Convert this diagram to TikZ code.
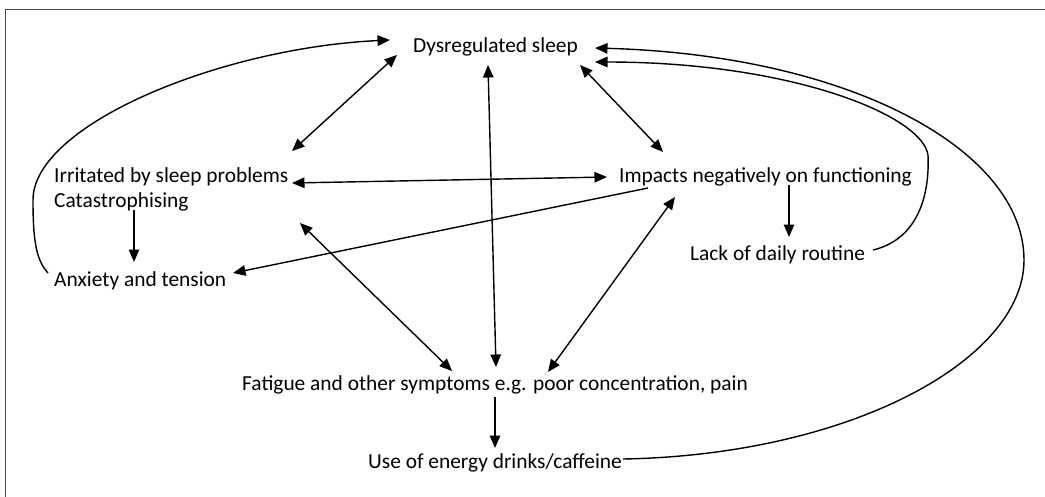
\documentclass[tikz,border=0pt]{standalone}
\usepackage{fontspec}
\setmainfont{Carlito}
\usetikzlibrary{arrows.meta}
\begin{document}
\begin{tikzpicture}[x=1pt,y=-1pt,
  lbl/.style={anchor=base west,inner sep=0pt,font=\fontsize{21.4}{25}\selectfont},
  conn/.style={line width=1.4pt,-{Triangle[length=12.5pt,width=10.5pt]}},
  biconn/.style={line width=1.4pt,{Triangle[length=12.5pt,width=10.5pt]}-{Triangle[length=12.5pt,width=10.5pt]}},
  frameline/.style={line width=1pt,draw=black!70}]
\useasboundingbox (0,0) rectangle (1045,496);
\draw[frameline] (5,500) -- (5,9) -- (1050,9);
\node[lbl] (dys) at (413,52) {Dysregulated sleep};
\node[lbl] (irr) at (54,182) {Irritated by sleep problems};
\node[lbl] (cat) at (54,207) {Catastrophising};
\node[lbl] (anx) at (54,286) {Anxiety and tension};
\node[lbl] (imp) at (619,182) {Impacts negatively on functioning};
\node[lbl] (lack) at (690,260) {Lack of daily routine};
\node[lbl] (fat) at (242,390) {Fatigue and other symptoms e.g. poor concentration, pain};
\node[lbl] (use) at (368,468) {Use of energy drinks/caffeine};
% left loop
\draw[conn] ([shift={(-6,-13)}]anx.base west) .. controls +(-12,-13) and +(0,40) .. (33,200) .. controls (33,125) and (220,48) .. ([shift={(-23,-12)}]dys.base west);
% straight links
\draw[biconn] ([shift={(-16,3)}]dys.base west) -- ([shift={(238,-31)}]irr.base west);
\draw[biconn] ([shift={(75,13)}]dys.base west) -- ([shift={(254,-23)}]fat.base west);
\draw[biconn] ([shift={(167,13)}]dys.base west) -- ([shift={(44,-30)}]imp.base west);
\draw[biconn] ([shift={(238,1)}]irr.base west) -- ([shift={(-12,-5)}]imp.base west);
\draw[conn] ([shift={(29,6)}]imp.base west) -- ([shift={(179,-13)}]anx.base west);
\draw[conn] ([shift={(80,3)}]cat.base west) -- ([shift={(80,-24)}]anx.base west);
\draw[biconn] ([shift={(246,41)}]irr.base west) -- ([shift={(210,-19)}]fat.base west);
\draw[biconn] ([shift={(56,15)}]imp.base west) -- ([shift={(306,-18)}]fat.base west);
\draw[conn] ([shift={(170,3)}]imp.base west) -- ([shift={(99,-23)}]lack.base west);
\draw[conn] ([shift={(253,7)}]fat.base west) -- ([shift={(127,-20)}]use.base west);
% inner loop from lack
\draw[conn] ([shift={(183,-10)}]lack.base west) .. controls (915,240) and (930,200) .. (928,155) .. controls (922,115) and (790,62) .. ([shift={(182,10)}]dys.base west);
% outer loop from use
\draw[conn] ([shift={(255,-9)}]use.base west) .. controls (850,455) and (1024,360) .. (1024,260) .. controls (1024,150) and (850,55) .. ([shift={(182,-4)}]dys.base west);
\end{tikzpicture}
\end{document}
